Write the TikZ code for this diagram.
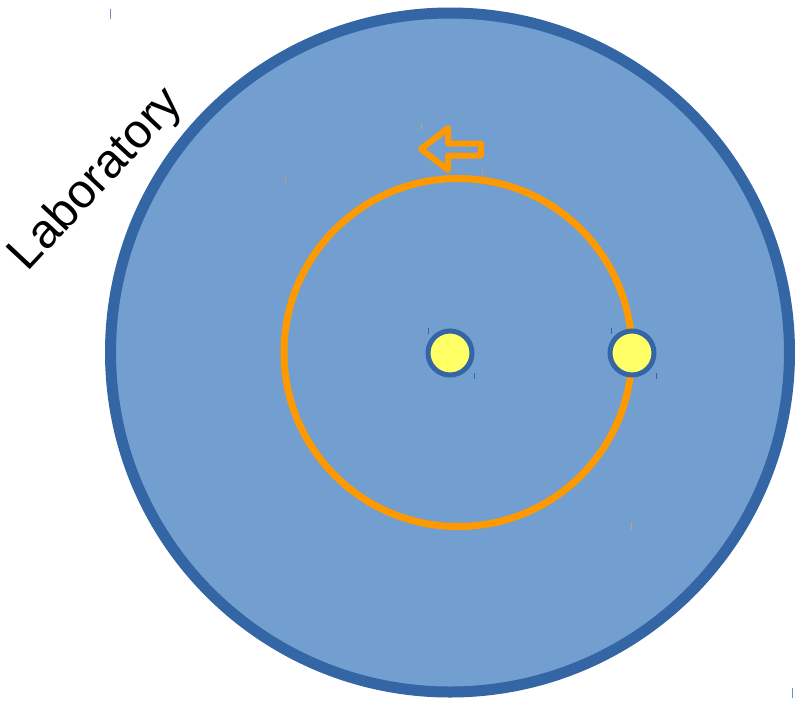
\documentclass[tikz,border=0pt]{standalone}
\usepackage{fontspec}
\setmainfont{Liberation Sans}
\definecolor{labfill}{HTML}{729FCF}
\definecolor{labline}{HTML}{3465A4}
\definecolor{orbit}{HTML}{FF9900}
\definecolor{sun}{HTML}{FFFF66}
\definecolor{tickor}{HTML}{C8A060}
\tikzset{
  lab/.style={draw=labline, fill=labfill, line width=11pt},
  orbitline/.style={draw=orbit, line width=7pt},
  ball/.style={circle, draw=labline, fill=sun, line width=5pt, minimum size=44pt, inner sep=0pt},
  tick/.style={line width=1pt},
}
\begin{document}
\begin{tikzpicture}[x=1pt,y=-1pt]
\useasboundingbox (0,0) rectangle (795,702);
\fill[white] (0,0) rectangle (795,702);
\draw[lab] (450,352.5) circle (339.5);
\draw[orbitline] (458,352.5) circle (174);
\node[ball] (c) at (450,353) {};
\node[ball] (p) at (632,353) {};
\draw[draw=orbit, line width=6pt, line join=round]
  (421,149) -- (448,128) -- (448,143.5) -- (481,143.5) -- (481,155.5) -- (448,155.5) -- (448,170) -- cycle;
\node[rotate=47, font=\fontsize{48}{54}\selectfont, inner sep=0pt] (lbl) at (97,180) {Laboratory};
% small marker ticks
\draw[tick, labline!70] (110,9) -- (110,19);
\draw[tick, labline!70] (792,688) -- (792,698);
\draw[tick, tickor] (285,175) -- (285,183);
\draw[tick, tickor] (631,522) -- (631,530);
\draw[tick, tickor] (421,123) -- (421,130);
\draw[tick, tickor] (482,168) -- (482,175);
\draw[tick, labline] (428,328) -- (428,334);
\draw[tick, labline] (474,373) -- (474,379);
\draw[tick, labline] (611,328) -- (611,334);
\draw[tick, labline] (656,373) -- (656,379);
\end{tikzpicture}
\end{document}
